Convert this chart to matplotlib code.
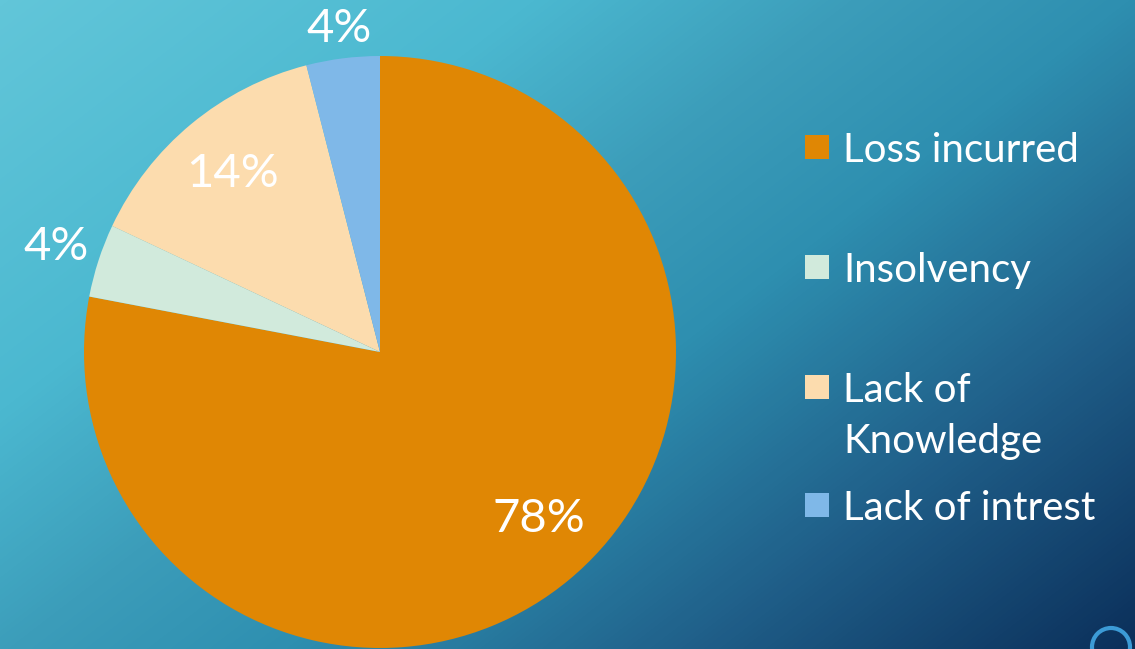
import matplotlib
matplotlib.use('Agg')
import matplotlib.pyplot as plt
import matplotlib.colors as mcolors
from matplotlib.patches import Rectangle, Circle
import numpy as np

categories = ['Loss incurred', 'Insolvency', 'Lack of\nKnowledge', 'Lack of intrest']
shares = [78, 4, 14, 4]
colors = ['#E08704', '#D1EADC', '#FCDCAE', '#7FB8E8']

W, H = 1135, 649
plt.rcParams['font.family'] = ['Lato', 'DejaVu Sans']

fig = plt.figure(figsize=(W / 100, H / 100), dpi=100)

# background gradient (diagonal, darker toward bottom-right)
bg = fig.add_axes([0, 0, 1, 1])
xx, yy = np.meshgrid(np.arange(W), np.arange(H))
s = (xx + 1.3 * yy) / (W + 1.3 * H)
stops = [(0.0, '#62C6D9'), (0.27, '#4BB8D0'), (0.43, '#3C9DBA'),
         (0.57, '#2E8FB0'), (0.77, '#20608A'), (1.0, '#0B2F5A')]
cmap = mcolors.LinearSegmentedColormap.from_list('bg', stops)
bg.imshow(s, cmap=cmap, vmin=0, vmax=1, aspect='auto', extent=[0, W, H, 0])
bg.set_xlim(0, W)
bg.set_ylim(H, 0)
bg.axis('off')

# small ring in the bottom-right corner
bg.add_patch(Circle((1111, 647), 19, fill=False, ec='#3C9BD6', lw=3))

# pie: centre (380, 352), radius 296 px
cx, cy, r = 380, 352, 296
ax = fig.add_axes([(cx - r) / W, (H - cy - r) / H, 2 * r / W, 2 * r / H])
wedges, _ = ax.pie(shares, colors=colors, startangle=90, counterclock=False,
                   wedgeprops=dict(linewidth=0))
ax.set_xlim(-1, 1)
ax.set_ylim(-1, 1)

for w, v in zip(wedges, shares):
    mid = np.deg2rad((w.theta1 + w.theta2) / 2)
    if v > 50:
        mid += np.deg2rad(4)
    d = 0.78 if v > 10 else (1.15 if np.cos(mid) < -0.5 else 1.10)
    ax.text(d * np.cos(mid), d * np.sin(mid), f'{v}%', color='white',
            fontsize=34, ha='center', va='center')

# legend
baselines = [162, 282, 402, 520]
line_gap = 51
for name, col, base in zip(categories, colors, baselines):
    bg.add_patch(Rectangle((805, base - 27), 24, 24, color=col, lw=0))
    for i, line in enumerate(name.split('\n')):
        bg.text(843, base + i * line_gap, line, color='white', fontsize=29,
                ha='left', va='baseline')

fig.savefig('out.png', dpi=100)
plt.close(fig)
